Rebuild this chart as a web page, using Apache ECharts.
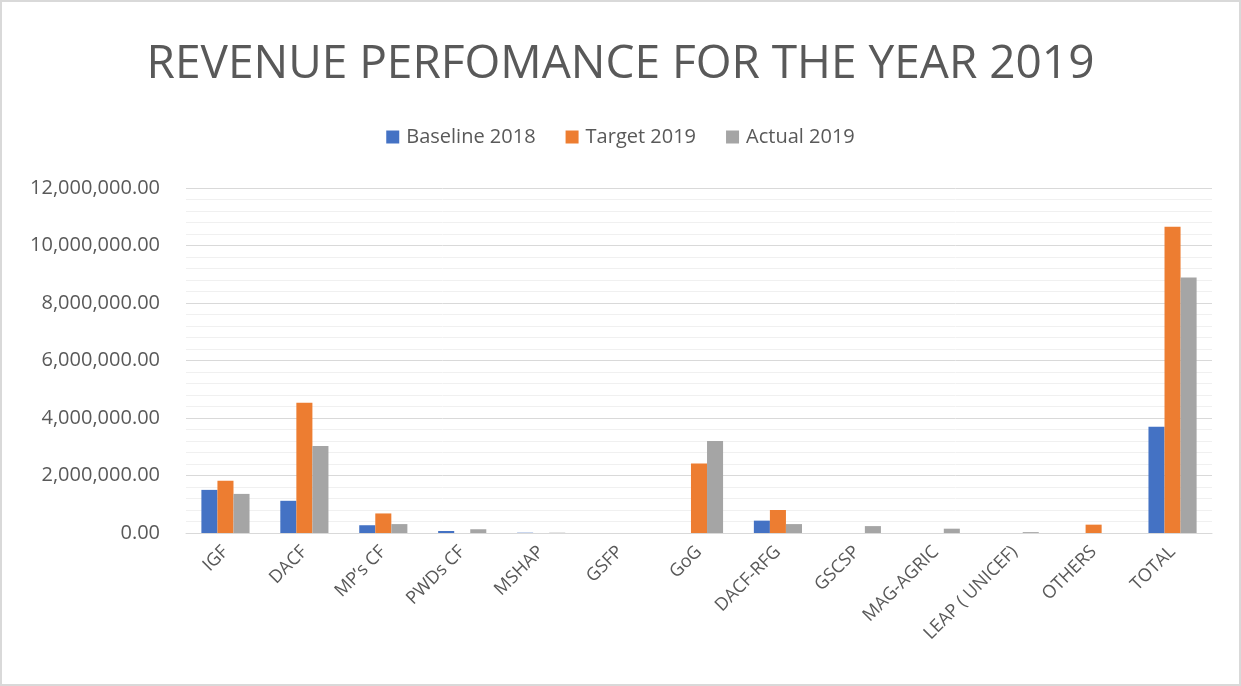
<!DOCTYPE html>
<html>
<head>
<meta charset="utf-8">
<script src="https://cdn.jsdelivr.net/npm/echarts@6/dist/echarts.min.js"></script>
<style>
  html, body { margin: 0; padding: 0; background: #fff; }
  #main { width: 1237px; height: 682px; border: 2px solid #d9d9d9; }
</style>
</head>
<body>
<div id="main"></div>
<script>
// categories and values
var categories = ['IGF', 'DACF', 'MP\u2019s CF', 'PWDs CF', 'MSHAP', 'GSFP', 'GoG', 'DACF-RFG', 'GSCSP', 'MAG-AGRIC', 'LEAP ( UNICEF)', 'OTHERS', 'TOTAL'];
var baseline2018 = [1500000, 1120000, 270000, 70000, 10000, 0, 0, 430000, 0, 0, 0, 0, 3700000];
var target2019 = [1820000, 4530000, 680000, 0, 0, 0, 2420000, 800000, 0, 0, 0, 290000, 10650000];
var actual2019 = [1360000, 3030000, 310000, 130000, 10000, 0, 3200000, 310000, 240000, 150000, 30000, 0, 8890000];

var textColor = '#595959';
var font = 'Open Sans';

var chart = echarts.init(document.getElementById('main'));

function fmt(v) {
    return v.toLocaleString('en-US', {minimumFractionDigits: 2, maximumFractionDigits: 2});
}

function bar(name, data, color) {
    return {
        name: name,
        type: 'bar',
        data: data,
        barGap: 0,
        barCategoryGap: '39%',
        itemStyle: {color: color}
    };
}

chart.setOption({
    animation: false,
    title: {
        text: 'REVENUE PERFOMANCE FOR THE YEAR 2019',
        left: 'center',
        top: 35,
        textStyle: {color: textColor, fontFamily: font, fontSize: 46, fontWeight: 'normal'}
    },
    legend: {
        top: 120,
        left: 'center',
        itemWidth: 13,
        itemHeight: 13,
        itemGap: 30,
        icon: 'rect',
        textStyle: {color: textColor, fontFamily: font, fontSize: 20, padding: [0, 0, 0, 2]}
    },
    grid: {left: 184, right: 27, top: 186, bottom: 151},
    xAxis: {
        type: 'category',
        data: categories,
        axisLine: {lineStyle: {color: '#d9d9d9'}},
        axisTick: {show: false},
        axisLabel: {
            interval: 0,
            rotate: 45,
            margin: 16,
            color: textColor,
            fontFamily: font,
            fontSize: 18
        }
    },
    yAxis: {
        type: 'value',
        min: 0,
        max: 12000000,
        interval: 2000000,
        axisLine: {show: false},
        axisTick: {show: false},
        axisLabel: {color: textColor, fontFamily: font, fontSize: 20, margin: 26, formatter: fmt},
        splitLine: {lineStyle: {color: '#d9d9d9', width: 1}},
        minorTick: {show: false, splitNumber: 5},
        minorSplitLine: {show: true, lineStyle: {color: '#f0f0f0', width: 1}}
    },
    series: [
        bar('Baseline 2018', baseline2018, '#4472c4'),
        bar('Target 2019', target2019, '#ed7d31'),
        bar('Actual 2019', actual2019, '#a5a5a5')
    ]
});
</script>
</body>
</html>
